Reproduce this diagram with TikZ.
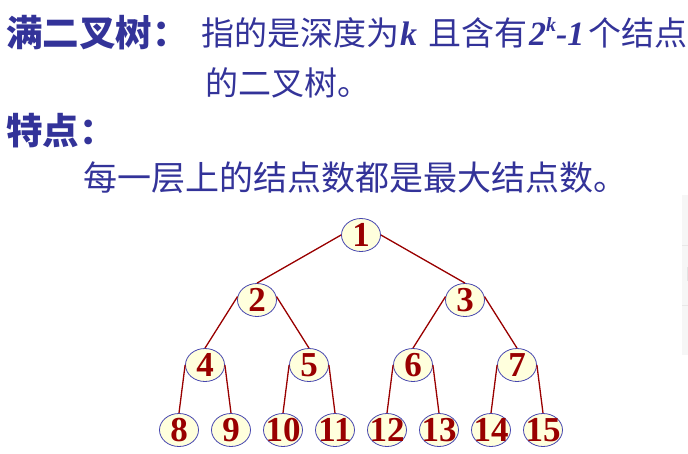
\documentclass[tikz,border=0pt]{standalone}
\usepackage{fontspec}
\usetikzlibrary{shapes.geometric}
\newfontfamily\cjk{Noto Sans CJK SC}
\newfontfamily\tms{Liberation Serif}
\definecolor{txtblue}{RGB}{51,51,153}
\definecolor{numred}{RGB}{153,0,0}
\definecolor{nodefill}{RGB}{255,255,221}
\definecolor{nodeline}{RGB}{70,70,175}
\tikzset{
  txt/.style={anchor=base west, inner sep=0pt, outer sep=0pt, text=txtblue},
  head/.style={txt, font=\cjk\bfseries\fontsize{36.5}{36.5}\selectfont},
  body/.style={txt, font=\cjk\fontsize{33}{33}\selectfont},
  latin/.style={txt, font=\tms\bfseries\itshape\fontsize{34}{34}\selectfont},
  tnode/.style={ellipse, draw=nodeline, line width=0.8pt, fill=nodefill,
    minimum width=39pt, minimum height=33pt, inner sep=0pt},
  num/.style={inner sep=0pt, text=numred, font=\tms\bfseries\fontsize{35}{35}\selectfont},
  edge/.style={draw=numred, line width=1.3pt}
}
\begin{document}
\begin{tikzpicture}[x=1pt,y=-1pt]
\useasboundingbox (0,0) rectangle (688,453);
% faint scrollbar strip at right edge
\fill[gray!7] (682,195) rectangle (688,355);
\draw[gray!18, line width=0.6pt] (682,245) -- (688,245) (682,305) -- (688,305);
\fill[gray!22] (686.6,267) rectangle (688,281);
% texts
\node[head] (h1) at (6,46) {满二叉树：};
\node[body] (t1a) at (201,45) {指的是深度为};
\node[latin] (t1b) at (400,45) {k};
\node[body] (t1c) at (428,45) {且含有};
\node[latin] (t1d) at (529,45) {2\raisebox{0.4em}{\fontsize{20}{20}\selectfont k}-1};
\node[body] (t1e) at (588,45) {个结点};
\node[body] (t2) at (205,95) {的二叉树。};
\node[head] (h2) at (6,144) {特点：};
\node[body, font=\cjk\fontsize{34}{34}\selectfont] (t3) at (83,190) {每一层上的结点数都是最大结点数。};
% tree nodes
\node[tnode] (n1) at (361,235) {};
\node[tnode] (n2) at (257,300) {};
\node[tnode] (n3) at (465,300) {};
\node[tnode] (n4) at (205,365) {};
\node[tnode] (n5) at (309,365) {};
\node[tnode] (n6) at (413,365) {};
\node[tnode] (n7) at (517,365) {};
\node[tnode] (n8) at (179,430) {};
\node[tnode] (n9) at (231,430) {};
\node[tnode] (n10) at (283,430) {};
\node[tnode] (n11) at (335,430) {};
\node[tnode] (n12) at (387,430) {};
\node[tnode] (n13) at (439,430) {};
\node[tnode] (n14) at (491,430) {};
\node[tnode] (n15) at (543,430) {};
\foreach \i in {1,...,15} { \node[num] at (n\i) {\i}; }
% edges
\draw[edge] (n1.west) -- (n2.north);
\draw[edge] (n1.east) -- (n3.north);
\draw[edge] (n2.170) -- (n4.north);
\draw[edge] (n2.10) -- (n5.north);
\draw[edge] (n3.170) -- (n6.north);
\draw[edge] (n3.10) -- (n7.north);
\draw[edge] (n4.west) -- (n8.north);
\draw[edge] (n4.east) -- (n9.north);
\draw[edge] (n5.west) -- (n10.north);
\draw[edge] (n5.east) -- (n11.north);
\draw[edge] (n6.west) -- (n12.north);
\draw[edge] (n6.east) -- (n13.north);
\draw[edge] (n7.west) -- (n14.north);
\draw[edge] (n7.east) -- (n15.north);
\end{tikzpicture}
\end{document}
